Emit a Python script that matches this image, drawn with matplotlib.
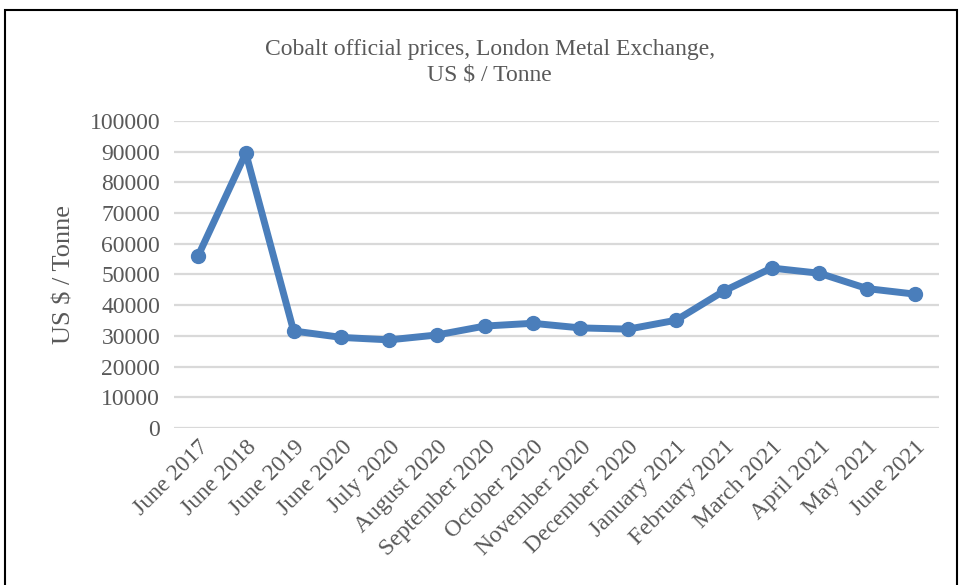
import matplotlib
matplotlib.use('Agg')
import matplotlib.pyplot as plt
from matplotlib.patches import Rectangle

# month labels and LME cobalt prices (US$/tonne)
months = ['June 2017', 'June 2018', 'June 2019', 'June 2020', 'July 2020',
          'August 2020', 'September 2020', 'October 2020', 'November 2020',
          'December 2020', 'January 2021', 'February 2021', 'March 2021',
          'April 2021', 'May 2021', 'June 2021']
prices = [56000, 89500, 31600, 29500, 28700, 30300, 33200, 34100, 32600,
          32200, 35100, 44600, 52100, 50400, 45400, 43600]
y_ticks = list(range(0, 100001, 10000))

plt.rcParams['font.family'] = ['Liberation Serif', 'DejaVu Serif']
grey = '#595959'

fig = plt.figure(figsize=(9.62, 5.85), dpi=100)
ax = fig.add_axes([0.181, 0.2684, 0.795, 0.5248])

x = list(range(len(months)))
ax.plot(x, prices, color='#4A7EBB', lw=5, marker='o', ms=10,
        solid_joinstyle='round', zorder=3)

ax.set_xlim(-0.5, len(months) - 0.5)
ax.set_ylim(0, 100000)
ax.set_yticks(y_ticks)
ax.set_yticklabels([str(v) for v in y_ticks], fontsize=17, color=grey)
ax.set_xticks(x)
ax.set_xticklabels(months, rotation=45, ha='right', rotation_mode='anchor',
                   fontsize=17, color=grey)
ax.tick_params(axis='both', length=0)
ax.tick_params(axis='y', pad=10)
ax.tick_params(axis='x', pad=6)

ax.grid(axis='y', color='#D9D9D9', lw=1.6)
ax.set_axisbelow(True)
for s in ax.spines.values():
    s.set_visible(False)

ax.set_ylabel('US $ / Tonne', fontsize=19, color=grey, labelpad=10)
fig.text(0.509, 0.893, 'Cobalt official prices, London Metal Exchange,\nUS $ / Tonne',
         ha='center', va='center', fontsize=17, color=grey, linespacing=1.3)

# black frame around the chart (bottom runs off the image)
fig.patches.append(Rectangle((0.0052, -0.1), 0.9896, 1.083, transform=fig.transFigure,
                             fill=False, edgecolor='black', lw=1.5))

fig.savefig('out.png', dpi=100)
